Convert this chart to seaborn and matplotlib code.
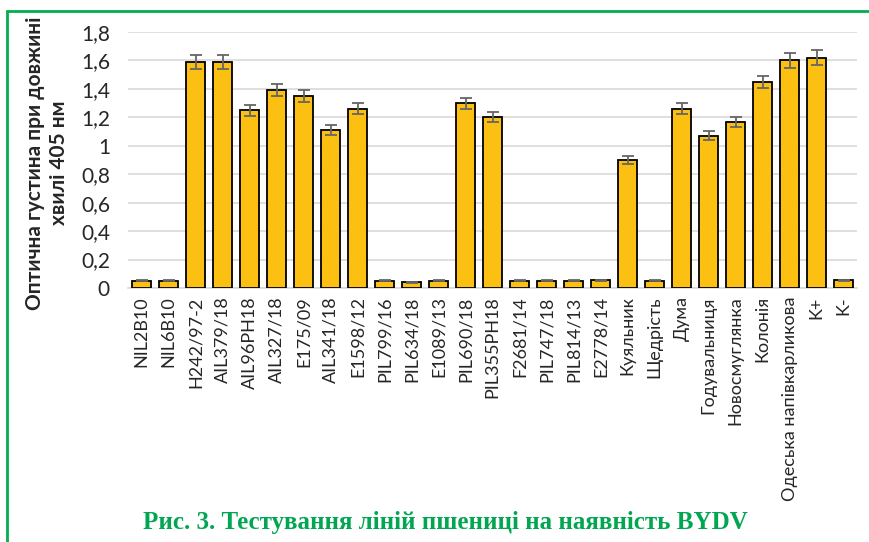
import numpy as np
import matplotlib
matplotlib.use('Agg')
import matplotlib.pyplot as plt
import seaborn as sns
from matplotlib.ticker import FuncFormatter, MultipleLocator
from matplotlib.lines import Line2D

# Data
lines = ['NIL2B10', 'NIL6B10', 'H242/97-2', 'AIL379/18', 'AIL96PH18', 'AIL327/18',
         'E175/09', 'AIL341/18', 'E1598/12', 'PIL799/16', 'PIL634/18', 'E1089/13',
         'PIL690/18', 'PIL355PH18', 'F2681/14', 'PIL747/18', 'PIL814/13', 'E2778/14',
         'Куяльник', 'Щедрість', 'Дума', 'Годувальниця', 'Новосмуглянка', 'Колонія',
         'Одеська напівкарликова', 'K+', 'K-']
od405 = [0.05, 0.05, 1.59, 1.59, 1.25, 1.39,
         1.35, 1.11, 1.26, 0.05, 0.04, 0.05,
         1.30, 1.20, 0.05, 0.05, 0.05, 0.055,
         0.90, 0.05, 1.26, 1.07, 1.17, 1.45,
         1.60, 1.62, 0.055]
err = [0.004, 0.004, 0.048, 0.048, 0.039, 0.042,
       0.040, 0.033, 0.038, 0.004, 0.004, 0.004,
       0.039, 0.036, 0.004, 0.004, 0.004, 0.004,
       0.028, 0.004, 0.040, 0.032, 0.035, 0.042,
       0.050, 0.050, 0.004]

ylabel = 'Оптична густина при довжині\nхвилі 405 нм'
caption = 'Рис. 3. Тестування ліній пшениці на наявність BYDV'

sns.set_style('white')
plt.rcParams['font.family'] = ['Lato', 'DejaVu Sans']

fig = plt.figure(figsize=(8.69, 5.42), dpi=100)
ax = fig.add_axes([128 / 869, 1 - 288 / 542, 729 / 869, 256 / 542])

sns.barplot(x=lines, y=od405, color='#FCC012', edgecolor='black',
            linewidth=1.3, width=0.69, saturation=1, ax=ax, zorder=3)
ax.errorbar(np.arange(len(lines)), od405, yerr=err, fmt='none',
            ecolor='#666666', elinewidth=1.3, capsize=4.5, capthick=1.3, zorder=4)

ax.set_xlim(-0.5, len(lines) - 0.5)
ax.set_ylim(0, 1.8)
ax.yaxis.set_major_locator(MultipleLocator(0.2))
ax.yaxis.set_major_formatter(FuncFormatter(
    lambda v, p: ('%g' % round(v, 1)).replace('.', ',')))
ax.grid(axis='y', color='#D9D9D9', linewidth=1.2, zorder=0)
ax.set_axisbelow(True)
for s in ['top', 'right', 'left']:
    ax.spines[s].set_visible(False)
ax.spines['bottom'].set_color('#D9D9D9')
ax.spines['bottom'].set_linewidth(1.2)
ax.tick_params(axis='both', length=0)
ax.tick_params(axis='y', labelsize=15, pad=13)
ax.tick_params(axis='x', labelsize=13, pad=6)
plt.setp(ax.get_xticklabels(), rotation=90)

fig.text(47 / 869, 1 - 163 / 542, ylabel, rotation=90, ha='center', va='center',
         fontsize=15, fontweight='bold', multialignment='center', linespacing=1.25)

fig.text(445 / 869, 1 - 522 / 542, caption, ha='center', va='center',
         fontsize=18, fontweight='bold', color='#00A651', family='Liberation Serif')

# green frame (top and left edges only visible)
fig.add_artist(Line2D([7 / 869, 1.01], [1 - 11 / 542] * 2, color='#00B050',
                      linewidth=2, transform=fig.transFigure))
fig.add_artist(Line2D([7 / 869] * 2, [-0.01, 1 - 11 / 542], color='#00B050',
                      linewidth=2, transform=fig.transFigure))

fig.savefig('out.png', dpi=100)
